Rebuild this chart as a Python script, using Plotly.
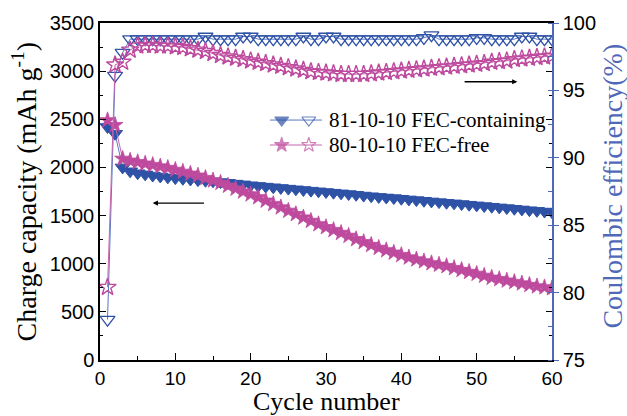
import plotly.graph_objects as go

cycles = list(range(1, 61))

cap_fec = [2420, 2350, 2000, 1960, 1940, 1928, 1916, 1906, 1897, 1889,
           1882, 1875, 1868, 1862, 1856, 1848, 1840, 1832, 1824, 1815,
           1808, 1801, 1794, 1787, 1780, 1773, 1766, 1759, 1752, 1745,
           1738, 1731, 1724, 1716, 1708, 1701, 1694, 1688, 1682, 1675,
           1668, 1661, 1654, 1647, 1640, 1633, 1627, 1620, 1613, 1606,
           1599, 1592, 1585, 1578, 1571, 1564, 1556, 1549, 1542, 1535]

cap_free = [2490, 2440, 2090, 2070, 2055, 2040, 2025, 2010, 1995, 1975,
            1955, 1935, 1915, 1890, 1865, 1840, 1810, 1780, 1750, 1720,
            1690, 1655, 1620, 1585, 1550, 1515, 1480, 1445, 1410, 1380,
            1350, 1320, 1290, 1255, 1225, 1195, 1165, 1140, 1115, 1090,
            1065, 1045, 1025, 1005, 990, 975, 955, 935, 915, 895,
            875, 855, 840, 825, 810, 795, 780, 765, 755, 745]

ce_fec = [78.0, 96.1, 97.8, 98.8, 98.8, 98.8, 98.8, 98.8, 98.8, 98.8,
          98.8, 98.8, 98.8, 99.0, 98.8, 98.8, 98.8, 98.8, 99.0, 99.0,
          98.8, 98.8, 98.8, 98.8, 98.8, 98.8, 99.0, 98.8, 98.8, 99.0,
          99.0, 98.8, 98.8, 98.8, 98.8, 98.8, 98.8, 98.8, 98.8, 98.8,
          98.8, 98.8, 98.9, 99.1, 98.8, 98.8, 98.8, 98.8, 98.8, 98.9,
          98.9, 98.8, 98.8, 98.8, 98.8, 99.0, 99.0, 98.8, 98.8, 98.8]

ce_free = [80.4, 96.9, 97.1, 98.0, 98.3, 98.35, 98.35, 98.3, 98.3, 98.25,
           98.2, 98.1, 98.0, 97.9, 97.75, 97.6, 97.5, 97.4, 97.3, 97.2,
           97.1, 97.0, 96.9, 96.8, 96.7, 96.6, 96.5, 96.4, 96.35, 96.3,
           96.25, 96.2, 96.2, 96.2, 96.2, 96.25, 96.3, 96.35, 96.4, 96.45,
           96.5, 96.55, 96.6, 96.65, 96.7, 96.75, 96.8, 96.85, 96.9, 96.95,
           97.0, 97.1, 97.15, 97.2, 97.3, 97.35, 97.4, 97.45, 97.5, 97.55]

series_names = ["81-10-10 FEC-containing", "80-10-10 FEC-free"]

BLUE = "#2E52A6"
BLUE_LINE = "#5A78C4"
PINK = "#BE4A9E"
PINK_LINE = "#C866AE"
AXBLUE = "#5068B8"
SERIF = "Liberation Serif"
SANS = "Liberation Sans"

fig = go.Figure()

fig.add_trace(go.Scatter(x=cycles, y=cap_fec, mode="lines+markers",
                         line=dict(color=BLUE_LINE, width=1),
                         marker=dict(symbol="triangle-down", size=13, color=BLUE,
                                     line=dict(color=BLUE, width=1)),
                         showlegend=False))
fig.add_trace(go.Scatter(x=cycles, y=cap_free, mode="lines+markers",
                         line=dict(color=PINK_LINE, width=1),
                         marker=dict(symbol="star", size=12, color=PINK,
                                     line=dict(color=PINK, width=0.8)),
                         showlegend=False))
fig.add_trace(go.Scatter(x=cycles, y=ce_fec, mode="lines+markers", yaxis="y2",
                         line=dict(color=BLUE_LINE, width=1),
                         marker=dict(symbol="triangle-down-open", size=13, color=BLUE,
                                     line=dict(color=BLUE, width=1.3)),
                         showlegend=False))
fig.add_trace(go.Scatter(x=cycles, y=ce_free, mode="lines+markers", yaxis="y2",
                         line=dict(color=PINK_LINE, width=1),
                         marker=dict(symbol="star-open", size=13, color=PINK,
                                     line=dict(color=PINK, width=1.4)),
                         showlegend=False))

# custom legend glyphs on an overlay axis (0..1 paper-like)
leg_x = [0.376, 0.402, 0.462, 0.491]
leg_rows = [0.712, 0.638]
glyphs = [("triangle-down", "triangle-down-open", BLUE, BLUE_LINE, 12),
          ("star", "star-open", PINK, PINK_LINE, 11)]
for (fs, os_, mc, lc, ms), ry, nm in zip(glyphs, leg_rows, series_names):
    fig.add_trace(go.Scatter(x=leg_x, y=[ry] * 4, mode="lines+markers",
                             xaxis="x3", yaxis="y3",
                             line=dict(color=lc, width=1),
                             marker=dict(symbol=[fs, fs, os_, fs], size=[0, ms, ms, 0],
                                         color=mc, line=dict(color=mc, width=1.1)),
                             showlegend=False, hoverinfo="skip"))
    fig.add_annotation(x=0.502, y=ry, xref="x3", yref="y3", text=nm,
                       showarrow=False, xanchor="left", yanchor="middle",
                       font=dict(family=SERIF, size=21, color="black"))

# arrows
fig.add_annotation(x=7, y=1630, ax=14, ay=1630, xref="x", yref="y",
                   axref="x", ayref="y", text="", showarrow=True,
                   arrowhead=2, arrowsize=0.8, arrowwidth=1.3, arrowcolor="black")
fig.add_annotation(x=55.4, y=95.64, ax=48.2, ay=95.64, xref="x", yref="y2",
                   axref="x", ayref="y2", text="", showarrow=True,
                   arrowhead=2, arrowsize=0.8, arrowwidth=1.3, arrowcolor="black")

# axis titles
fig.add_annotation(x=0.5, y=-0.124, xref="paper", yref="paper",
                   text="Cycle number", showarrow=False,
                   xanchor="center", yanchor="middle",
                   font=dict(family=SERIF, size=26, color="black"))
fig.add_annotation(x=-0.166, y=0.5, xref="paper", yref="paper",
                   text="Charge capacity (mAh g<sup>-1</sup>)", textangle=-90,
                   showarrow=False, xanchor="center", yanchor="middle",
                   font=dict(family=SERIF, size=28, color="black"))
fig.add_annotation(x=1.133, y=0.515, xref="paper", yref="paper",
                   text="Coulombic efficiency(%)", textangle=-90,
                   showarrow=False, xanchor="center", yanchor="middle",
                   font=dict(family=SERIF, size=28, color=AXBLUE))

fig.update_layout(
    width=627, height=416,
    margin=dict(l=100, r=75, t=20, b=56),
    paper_bgcolor="white", plot_bgcolor="white",
    showlegend=False,
    xaxis=dict(range=[0, 60], dtick=10, tick0=0, ticks="inside", ticklen=7,
               tickwidth=1.2, tickcolor="black", showline=True, linecolor="black",
               linewidth=1.5, mirror=True, showgrid=False, zeroline=False,
               minor=dict(dtick=5, ticks="inside", ticklen=4, tickcolor="black"),
               tickfont=dict(family=SANS, size=19, color="black")),
    yaxis=dict(range=[0, 3500], dtick=500, tick0=0, ticks="inside", ticklen=6,
               tickwidth=1.2, tickcolor="black", showline=True, linecolor="black",
               linewidth=1.5, mirror="ticks", showgrid=False, zeroline=False,
               minor=dict(dtick=250, ticks="inside", ticklen=3, tickcolor="black"),
               tickfont=dict(family=SANS, size=20, color="black")),
    yaxis2=dict(range=[75, 100], dtick=5, tick0=75, overlaying="y", side="right",
                ticks="outside", ticklen=5, tickwidth=1.2, tickcolor=AXBLUE,
                showline=True, linecolor=AXBLUE, linewidth=1.5, showgrid=False,
                zeroline=False,
                minor=dict(dtick=2.5, ticks="inside", ticklen=4, tickcolor=AXBLUE),
                tickfont=dict(family=SANS, size=20, color="black")),
    xaxis3=dict(range=[0, 1], overlaying="x", visible=False, fixedrange=True),
    yaxis3=dict(range=[0, 1], overlaying="y", visible=False, fixedrange=True),
)

fig.write_html("out.html")
